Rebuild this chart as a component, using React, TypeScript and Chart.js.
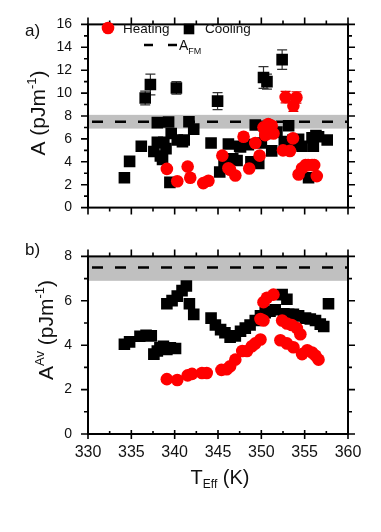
import React, { useEffect, useRef } from 'react';
import { Chart, registerables } from 'chart.js';
Chart.register(...registerables);

const FONT = '"Liberation Sans", Arial, Helvetica, sans-serif';

// ---------- Panel a) : A vs T_Eff ----------
const heatTopT = [339.1, 340.3, 341.5, 341.8, 343.3, 343.9, 345.5, 346.2, 346.4, 347.0, 347.95, 348.6, 349.3, 349.8, 350.25, 350.45, 350.65, 350.8, 351.2, 351.4, 352.5, 352.8, 353.3, 353.7, 353.65, 354.05, 354.3, 354.7, 355.1, 355.4, 355.85, 356.1, 356.4];
const heatTopA = [3.38, 2.3, 3.58, 2.61, 2.14, 2.34, 4.54, 3.44, 3.3, 2.8, 6.19, 3.42, 5.64, 4.54, 7.01, 6.33, 6.74, 7.29, 7.15, 6.47, 5.0, 9.65, 4.95, 8.9, 6.05, 9.62, 2.89, 3.44, 3.71, 3.71, 3.71, 3.71, 2.75];
const heatTopErr = [0.2, 0.2, 0.2, 0.2, 0.2, 0.2, 0.25, 0.2, 0.2, 0.2, 0.3, 0.2, 0.3, 0.25, 0.35, 0.3, 0.35, 0.35, 0.35, 0.3, 0.25, 0.5, 0.25, 0.5, 0.3, 0.5, 0.2, 0.2, 0.2, 0.2, 0.2, 0.2, 0.2];

const coolTopT = [334.2, 334.8, 336.15, 336.6, 337.2, 338.0, 339.3, 337.6, 338.0, 338.35, 338.6, 338.75, 339.0, 339.45, 339.6, 340.3, 340.2, 340.9, 341.1, 341.65, 342.2, 344.2, 344.95, 345.2, 345.7, 346.2, 346.7, 347.2, 347.5, 347.6, 348.5, 348.8, 349.7, 349.3, 350.0, 350.25, 350.65, 350.45, 351.2, 351.8, 352.4, 352.65, 353.15, 353.65, 353.9, 354.3, 354.7, 355.45, 355.85, 356.0, 356.3, 356.6, 357.6];
const coolTopA = [2.61, 4.04, 5.36, 9.57, 10.75, 7.42, 7.48, 4.9, 5.7, 4.5, 4.2, 5.7, 5.15, 2.2, 6.47, 5.9, 10.45, 5.75, 5.9, 7.5, 6.85, 5.64, 9.3, 3.11, 3.93, 5.56, 4.26, 4.12, 5.36, 5.3, 5.5, 3.99, 3.85, 7.21, 5.64, 11.36, 11.0, 6.47, 4.95, 6.6, 12.92, 5.77, 7.15, 5.91, 5.5, 5.97, 5.36, 2.61, 6.1, 5.36, 6.3, 6.19, 5.91];
const coolTopErr = [0, 0, 0, 0.6, 0.9, 0, 0, 0, 0, 0, 0, 0, 0, 0, 0, 0, 0.55, 0, 0, 0, 0, 0, 0.75, 0, 0, 0, 0, 0, 0, 0, 0, 0, 0, 0, 0, 0.95, 0.65, 0, 0, 0, 0.85, 0, 0, 0, 0, 0, 0, 0, 0, 0, 0, 0, 0];

// ---------- Panel b) : A^Av vs T_Eff ----------
const heatBotT = [339.1, 340.3, 341.5, 342.0, 343.15, 343.7, 345.4, 346.0, 346.4, 347.0, 347.8, 348.35, 348.9, 349.3, 349.9, 350.25, 350.65, 351.4, 349.9, 350.25, 352.4, 352.95, 353.5, 354.1, 354.5, 352.2, 352.95, 353.7, 354.7, 355.3, 355.85, 356.25, 356.6];
const heatBotA = [2.47, 2.43, 2.64, 2.71, 2.75, 2.75, 2.89, 2.92, 3.05, 3.35, 3.74, 3.74, 3.95, 4.08, 4.26, 5.94, 6.14, 6.28, 5.18, 5.11, 5.11, 4.98, 4.91, 4.77, 4.49, 4.22, 4.08, 3.91, 3.6, 3.77, 3.67, 3.53, 3.35];

const coolBotT = [334.2, 334.8, 336.0, 336.7, 337.3, 337.6, 338.0, 338.3, 338.7, 339.1, 339.5, 340.1, 339.1, 339.7, 340.3, 340.85, 341.35, 341.7, 342.2, 344.2, 344.7, 345.3, 345.8, 346.4, 347.0, 347.6, 348.15, 348.7, 349.3, 349.9, 350.45, 351.0, 351.6, 352.4, 352.95, 352.6, 353.15, 353.7, 354.3, 355.1, 355.65, 356.25, 356.8, 357.2, 357.75];
const coolBotA = [4.04, 4.15, 4.4, 4.45, 4.42, 3.6, 3.74, 3.88, 3.95, 3.81, 3.88, 3.85, 5.87, 6.01, 6.21, 6.46, 6.67, 5.87, 5.39, 5.22, 4.91, 4.7, 4.56, 4.36, 4.42, 4.63, 4.77, 4.91, 5.11, 5.32, 5.46, 5.53, 5.6, 6.28, 6.07, 5.42, 5.39, 5.39, 5.32, 5.22, 5.18, 5.11, 4.95, 4.84, 5.87];

const xTicks = [330, 335, 340, 345, 350, 355, 360];
const A_FM = 7.5;
const A_FM_LO = 6.9;
const A_FM_HI = 8.1;

type Part = { t: string; size: number; dy?: number };

function drawRich(ctx: CanvasRenderingContext2D, parts: Part[], x: number, y: number, align: 'left' | 'center') {
  let w = 0;
  for (const p of parts) {
    ctx.font = `${p.size}px ${FONT}`;
    w += ctx.measureText(p.t).width;
  }
  let cx = align === 'center' ? x - w / 2 : x;
  ctx.textAlign = 'left';
  ctx.textBaseline = 'alphabetic';
  for (const p of parts) {
    ctx.font = `${p.size}px ${FONT}`;
    ctx.fillText(p.t, cx, y + (p.dy || 0));
    cx += ctx.measureText(p.t).width;
  }
}

interface PanelCfg {
  yMax: number;
  label: string;
  labelY: number;
  yTitle: Part[];
  yTitleX: number;
  yTitleY: number;
  legend: boolean;
  xTitle: boolean;
  bottomCross: boolean;
}

function makeOverlay(cfg: PanelCfg) {
  return {
    id: 'overlay',
    beforeDatasetsDraw(chart: any) {
      const { ctx, chartArea: a } = chart;
      const x = chart.scales.x;
      const y = chart.scales.y;
      ctx.save();
      ctx.beginPath();
      ctx.rect(a.left, a.top, a.right - a.left, a.bottom - a.top);
      ctx.clip();
      const y1 = y.getPixelForValue(A_FM_HI);
      const y2 = y.getPixelForValue(A_FM_LO);
      ctx.fillStyle = '#c0c0c0';
      ctx.fillRect(a.left, y1, a.right - a.left, y2 - y1);
      const yl = y.getPixelForValue(A_FM);
      ctx.setLineDash([11, 12]);
      ctx.lineDashOffset = -4;
      ctx.lineWidth = 2.5;
      ctx.strokeStyle = '#000';
      ctx.beginPath();
      ctx.moveTo(a.left, yl);
      ctx.lineTo(a.right, yl);
      ctx.stroke();
      ctx.setLineDash([]);
      // error bars
      chart.data.datasets.forEach((ds: any) => {
        if (!ds.errs) return;
        ctx.strokeStyle = ds.errColor;
        ctx.lineWidth = 1.2;
        ds.data.forEach((p: any, i: number) => {
          const e = ds.errs[i];
          if (!e) return;
          const px = x.getPixelForValue(p.x);
          const yt = y.getPixelForValue(p.y + e);
          const yb = y.getPixelForValue(p.y - e);
          ctx.beginPath();
          ctx.moveTo(px, yt); ctx.lineTo(px, yb);
          ctx.moveTo(px - 5, yt); ctx.lineTo(px + 5, yt);
          ctx.moveTo(px - 5, yb); ctx.lineTo(px + 5, yb);
          ctx.stroke();
        });
      });
      ctx.restore();
    },
    afterDraw(chart: any) {
      const { ctx, chartArea: a } = chart;
      const x = chart.scales.x;
      const y = chart.scales.y;
      ctx.save();
      ctx.strokeStyle = '#000';
      ctx.lineWidth = 2;
      ctx.strokeRect(a.left, a.top, a.right - a.left, a.bottom - a.top);
      ctx.lineWidth = 1.6;
      ctx.beginPath();
      for (let v = 330; v <= 360; v += 2.5) {
        const major = v % 5 === 0;
        const len = major ? 7 : 4;
        const px = x.getPixelForValue(v);
        ctx.moveTo(px, a.top); ctx.lineTo(px, a.top - len);
        if (cfg.bottomCross) {
          ctx.moveTo(px, a.bottom - (major ? 4 : 3)); ctx.lineTo(px, a.bottom + (major ? 5 : 0));
        } else {
          ctx.moveTo(px, a.bottom); ctx.lineTo(px, a.bottom + len);
        }
      }
      for (let v = 0; v <= cfg.yMax; v += 1) {
        const major = v % 2 === 0;
        const len = major ? 7 : 4;
        const py = y.getPixelForValue(v);
        ctx.moveTo(a.left, py); ctx.lineTo(a.left - len, py);
        ctx.moveTo(a.right, py); ctx.lineTo(a.right + len, py);
      }
      ctx.stroke();

      ctx.fillStyle = '#111';
      // panel label
      ctx.font = `17px ${FONT}`;
      ctx.textAlign = 'left';
      ctx.textBaseline = 'alphabetic';
      ctx.fillText(cfg.label, 25, cfg.labelY);

      // y title
      ctx.save();
      ctx.translate(cfg.yTitleX, cfg.yTitleY);
      ctx.rotate(-Math.PI / 2);
      drawRich(ctx, cfg.yTitle, 0, 0, 'center');
      ctx.restore();

      if (cfg.xTitle) {
        drawRich(ctx, [{ t: 'T', size: 20 }, { t: 'Eff', size: 12, dy: 4 }, { t: ' (K)', size: 20 }], 220, 252, 'center');
      }

      if (cfg.legend) {
        ctx.fillStyle = '#ff0000';
        ctx.beginPath();
        ctx.arc(108, 28, 6.3, 0, Math.PI * 2);
        ctx.fill();
        ctx.fillStyle = '#111';
        ctx.font = `13.5px ${FONT}`;
        ctx.fillText('Heating', 123, 33);
        ctx.fillStyle = '#000';
        ctx.fillRect(189 - 5.3, 29 - 5.3, 10.6, 10.6);
        ctx.fillStyle = '#111';
        ctx.fillText('Cooling', 205, 33);
        ctx.strokeStyle = '#000';
        ctx.lineWidth = 2.5;
        ctx.beginPath();
        ctx.moveTo(144, 45); ctx.lineTo(153, 45);
        ctx.moveTo(168, 45); ctx.lineTo(177, 45);
        ctx.stroke();
        drawRich(ctx, [{ t: 'A', size: 14 }, { t: 'FM', size: 9, dy: 4 }], 179, 50, 'left');
      }
      ctx.restore();
    },
  };
}

function buildChart(canvas: HTMLCanvasElement, cfg: PanelCfg, heat: { x: number; y: number }[], cool: { x: number; y: number }[], heatErr: number[] | null, coolErr: number[] | null, padTop: number, xHeight: number) {
  return new Chart(canvas, {
    type: 'scatter',
    data: {
      datasets: [
        {
          label: 'Heating',
          data: heat,
          pointStyle: 'circle',
          pointRadius: 6.3,
          pointHoverRadius: 6.3,
          backgroundColor: '#ff0000',
          borderWidth: 0,
          errs: heatErr,
          errColor: '#e00000',
        } as any,
        {
          label: 'Cooling',
          data: cool,
          pointStyle: 'rect',
          pointRadius: 8.2,
          pointHoverRadius: 8.2,
          backgroundColor: '#000000',
          borderWidth: 0,
          errs: coolErr,
          errColor: '#333333',
        } as any,
      ],
    },
    options: {
      animation: false,
      responsive: false,
      devicePixelRatio: 1,
      layout: { padding: { top: padTop, right: 33, left: 0, bottom: 0 } },
      plugins: { legend: { display: false }, tooltip: { enabled: false } },
      events: [],
      scales: {
        x: {
          type: 'linear',
          min: 330,
          max: 360,
          afterBuildTicks: (s: any) => { s.ticks = xTicks.map((v) => ({ value: v })); },
          ticks: { display: cfg.xTitle, color: '#111', font: { size: 16, family: FONT }, padding: 9, maxRotation: 0, autoSkip: false },
          grid: { display: false, drawTicks: false },
          border: { display: false },
          afterFit: (s: any) => { s.height = xHeight; },
        },
        y: {
          min: 0,
          max: cfg.yMax,
          ticks: { stepSize: 2, color: '#111', font: { size: 14, family: FONT }, padding: 16 },
          grid: { display: false, drawTicks: false },
          border: { display: false },
          afterFit: (s: any) => { s.width = 88; },
        },
      },
    } as any,
    plugins: [makeOverlay(cfg)],
  });
}

function zip(xs: number[], ys: number[]) {
  return xs.map((v, i) => ({ x: v, y: ys[i] }));
}

export default function App() {
  const topRef = useRef<HTMLCanvasElement>(null);
  const botRef = useRef<HTMLCanvasElement>(null);

  useEffect(() => {
    document.body.style.margin = '0';
    const c1 = buildChart(
      topRef.current!,
      {
        yMax: 16,
        label: 'a)',
        labelY: 36,
        yTitle: [{ t: 'A (pJm', size: 21 }, { t: '-1', size: 13, dy: -9 }, { t: ')', size: 21 }],
        yTitleX: 45,
        yTitleY: 113,
        legend: true,
        xTitle: false,
        bottomCross: false,
      },
      zip(heatTopT, heatTopA),
      zip(coolTopT, coolTopA),
      heatTopErr,
      coolTopErr,
      18,
      20,
    );
    const c2 = buildChart(
      botRef.current!,
      {
        yMax: 8,
        label: 'b)',
        labelY: 23,
        yTitle: [{ t: 'A', size: 21 }, { t: 'Av', size: 13, dy: -9 }, { t: ' (pJm', size: 21 }, { t: '-1', size: 13, dy: -9 }, { t: ')', size: 21 }],
        yTitleX: 53,
        yTitleY: 98,
        legend: false,
        xTitle: true,
        bottomCross: true,
      },
      zip(heatBotT, heatBotA),
      zip(coolBotT, coolBotA),
      null,
      null,
      8,
      98,
    );
    return () => {
      c1.destroy();
      c2.destroy();
    };
  }, []);

  return (
    <div style={{ position: 'relative', width: 381, height: 532, background: '#fff' }}>
      <canvas ref={topRef} width={381} height={232} style={{ position: 'absolute', left: 0, top: 0, width: 381, height: 232 }} />
      <canvas ref={botRef} width={381} height={300} style={{ position: 'absolute', left: 0, top: 232, width: 381, height: 300 }} />
    </div>
  );
}
